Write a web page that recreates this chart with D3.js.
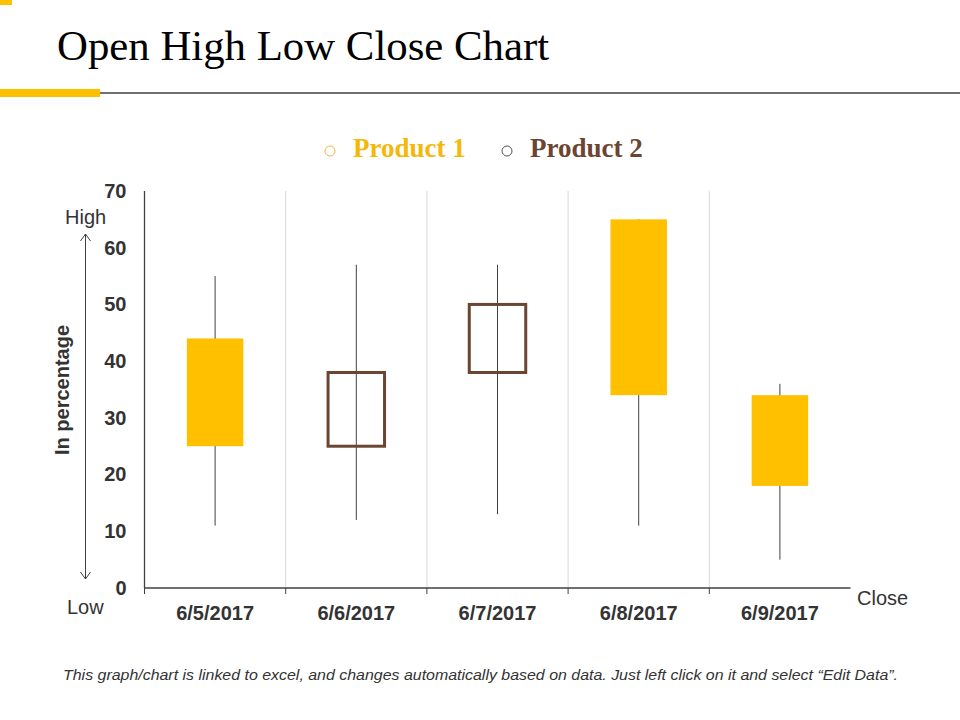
<!DOCTYPE html>
<html>
<head>
<meta charset="utf-8">
<script src="https://cdn.jsdelivr.net/npm/d3@7"></script>
<style>
  body { margin: 0; background: #fff; }
  svg { display: block; }
</style>
</head>
<body>
<script>
// chart data
var dates = ["6/5/2017", "6/6/2017", "6/7/2017", "6/8/2017", "6/9/2017"];
var openVals = [44, 25, 38, 65, 34];
var highVals = [55, 57, 57, 65, 36];
var lowVals = [11, 12, 13, 11, 5];
var closeVals = [25, 38, 50, 34, 18];
var yTicks = [0, 10, 20, 30, 40, 50, 60, 70];
var legendNames = ["Product 1", "Product 2"];
var legendColors = ["#F4B70A", "#6B4531"];

var yellow = "#FFC000", brown = "#6B4531", axisCol = "#404040";

var dataset = dates.map(function (d, i) {
    return {date: d, open: openVals[i], high: highVals[i], low: lowVals[i], close: closeVals[i]};
});

var W = 960, H = 720;
var svg = d3.select("body").append("svg").attr("width", W).attr("height", H);

// header decoration
svg.append("rect").attr("x", 0).attr("y", 0).attr("width", 12).attr("height", 5).attr("fill", yellow);
svg.append("rect").attr("x", 0).attr("y", 89).attr("width", 100).attr("height", 8).attr("fill", yellow);
svg.append("line").attr("x1", 100).attr("x2", 960).attr("y1", 93).attr("y2", 93)
    .attr("stroke", "#404040").attr("stroke-width", 1.3);
svg.append("text").attr("x", 57).attr("y", 60)
    .attr("font-family", "'Liberation Serif', 'Times New Roman', serif").attr("font-size", 42.8)
    .attr("fill", "#000").text("Open High Low Close Chart");

// legend
var legendX = [330, 507];
legendNames.forEach(function (name, i) {
    svg.append("circle").attr("cx", legendX[i]).attr("cy", 151).attr("r", 5)
        .attr("fill", "none").attr("stroke", i === 0 ? "#E9B84A" : "#555").attr("stroke-width", 1);
    svg.append("text").attr("x", legendX[i] + 23).attr("y", 157)
        .attr("font-family", "'Liberation Serif', 'Times New Roman', serif").attr("font-size", 27)
        .attr("font-weight", "bold").attr("fill", legendColors[i]).text(name);
});

// scales
var pLeft = 144.5, pRight = 850.5, pTop = 191, pBottom = 588;
var xScale = d3.scaleBand().domain(dates).range([pLeft, pRight]).paddingInner(0).paddingOuter(0);
var yScale = d3.scaleLinear().domain([0, 70]).range([pBottom, pTop]);
var bw = xScale.bandwidth();
var boxW = bw * 0.4;

var font = "'Liberation Sans', Arial, sans-serif";

// vertical gridlines at band boundaries
var bounds = dates.slice(1).map(function (d) { return xScale(d); });
svg.selectAll(".grid").data(bounds).enter().append("line")
    .attr("class", "grid")
    .attr("x1", function (d) { return d; }).attr("x2", function (d) { return d; })
    .attr("y1", pTop).attr("y2", pBottom)
    .attr("stroke", "#D9D9D9").attr("stroke-width", 1);

// y axis
var yAxis = d3.axisLeft(yScale).tickValues(yTicks).tickSize(0).tickPadding(18);
var gy = svg.append("g").attr("transform", "translate(" + pLeft + ",0)").call(yAxis);
gy.select(".domain").attr("stroke", axisCol).attr("stroke-width", 1.3).attr("d", "M0," + pTop + "V" + pBottom);
gy.selectAll("text").attr("font-family", font).attr("font-size", 20).attr("font-weight", "bold").attr("fill", "#333");

// x axis
var xAxis = d3.axisBottom(xScale).tickSize(0).tickPadding(18);
var gx = svg.append("g").attr("transform", "translate(0," + pBottom + ")").call(xAxis);
gx.select(".domain").attr("stroke", axisCol).attr("stroke-width", 1.3).attr("d", "M" + pLeft + ",0H" + pRight);
gx.selectAll("text").attr("font-family", font).attr("font-size", 20).attr("font-weight", "bold").attr("fill", "#333");
// tick marks between categories
svg.selectAll(".xtick").data([pLeft].concat(bounds)).enter().append("line")
    .attr("class", "xtick")
    .attr("x1", function (d) { return d; }).attr("x2", function (d) { return d; })
    .attr("y1", pBottom).attr("y2", pBottom + 6)
    .attr("stroke", axisCol).attr("stroke-width", 1);

// wicks
svg.selectAll(".wick").data(dataset).enter().append("line")
    .attr("class", "wick")
    .attr("x1", function (d) { return xScale(d.date) + bw / 2; })
    .attr("x2", function (d) { return xScale(d.date) + bw / 2; })
    .attr("y1", function (d) { return yScale(d.high); })
    .attr("y2", function (d) { return yScale(d.low); })
    .attr("stroke", axisCol).attr("stroke-width", 1);

// boxes: down = filled yellow, up = hollow brown
svg.selectAll(".box").data(dataset).enter().append("rect")
    .attr("class", "box")
    .attr("x", function (d) { return xScale(d.date) + bw / 2 - boxW / 2; })
    .attr("y", function (d) { return yScale(Math.max(d.open, d.close)); })
    .attr("width", boxW)
    .attr("height", function (d) { return Math.abs(yScale(d.open) - yScale(d.close)); })
    .attr("fill", function (d) { return d.close > d.open ? "none" : yellow; })
    .attr("stroke", function (d) { return d.close > d.open ? brown : "none"; })
    .attr("stroke-width", 3);

// axis annotations
svg.append("text").attr("x", 65).attr("y", 224).attr("font-family", font).attr("font-size", 20)
    .attr("fill", "#333").text("High");
svg.append("text").attr("x", 67).attr("y", 614).attr("font-family", font).attr("font-size", 20)
    .attr("fill", "#333").text("Low");
svg.append("text").attr("x", 857).attr("y", 605).attr("font-family", font).attr("font-size", 20)
    .attr("fill", "#333").text("Close");
svg.append("text").attr("transform", "translate(69,390) rotate(-90)").attr("text-anchor", "middle")
    .attr("font-family", font).attr("font-size", 20).attr("font-weight", "bold")
    .attr("fill", "#333").text("In percentage");

// double arrow
var ax = 85.5;
svg.append("line").attr("x1", ax).attr("x2", ax).attr("y1", 234).attr("y2", 579)
    .attr("stroke", axisCol).attr("stroke-width", 1);
svg.append("path").attr("d", "M" + (ax - 5) + ",241L" + ax + ",234L" + (ax + 5) + ",241")
    .attr("fill", "none").attr("stroke", axisCol).attr("stroke-width", 1);
svg.append("path").attr("d", "M" + (ax - 5) + ",572L" + ax + ",579L" + (ax + 5) + ",572")
    .attr("fill", "none").attr("stroke", axisCol).attr("stroke-width", 1);

// footnote
svg.append("text").attr("x", 63).attr("y", 680)
    .attr("font-family", font).attr("font-size", 15).attr("font-style", "italic")
    .attr("fill", "#333").attr("textLength", 835).attr("lengthAdjust", "spacingAndGlyphs")
    .text("This graph/chart is linked to excel, and changes automatically based on data. Just left click on it and select \u201cEdit Data\u201d.");
</script>
</body>
</html>
